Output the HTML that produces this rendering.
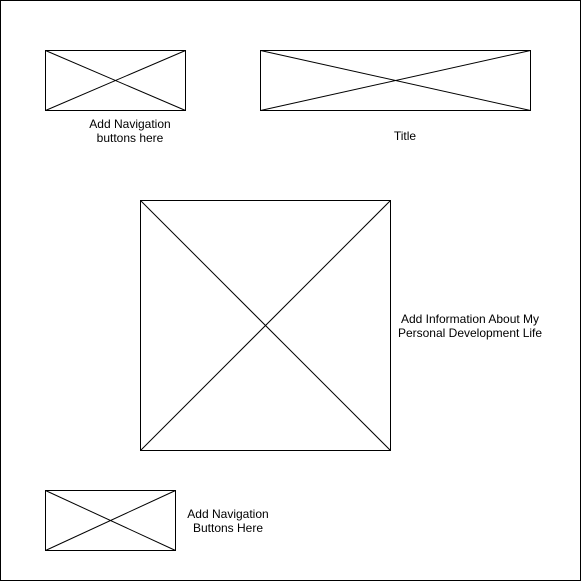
<!DOCTYPE html>
<html>
<head>
<meta charset="utf-8">
<style>
  html, body { margin: 0; padding: 0; background: #fff; }
  svg { display: block; }
  text { font-family: "Liberation Sans", Arial, sans-serif; font-size: 12px; fill: #000; }
</style>
</head>
<body>
<svg width="581" height="581" viewBox="0 0 581 581">
  <rect x="0.5" y="0.5" width="580" height="580" fill="#fff" stroke="#000" stroke-width="1"/>

  <g stroke="#000" stroke-width="1" fill="none">
    <rect x="45.5" y="50.5" width="140" height="60"/>
    <line x1="45.5" y1="50.5" x2="185.5" y2="110.5"/>
    <line x1="185.5" y1="50.5" x2="45.5" y2="110.5"/>
  </g>
  <text x="130" y="128" text-anchor="middle">Add Navigation</text>
  <text x="130" y="142" text-anchor="middle">buttons here</text>

  <g stroke="#000" stroke-width="1" fill="none">
    <rect x="260.5" y="50.5" width="270" height="60"/>
    <line x1="260.5" y1="50.5" x2="530.5" y2="110.5"/>
    <line x1="530.5" y1="50.5" x2="260.5" y2="110.5"/>
  </g>
  <text x="405" y="140" text-anchor="middle">Title</text>

  <g stroke="#000" stroke-width="1" fill="none">
    <rect x="140.5" y="200.5" width="250" height="250"/>
    <line x1="140.5" y1="200.5" x2="390.5" y2="450.5"/>
    <line x1="390.5" y1="200.5" x2="140.5" y2="450.5"/>
  </g>
  <text x="470" y="323" text-anchor="middle">Add Information About My</text>
  <text x="470" y="337" text-anchor="middle">Personal Development Life</text>

  <g stroke="#000" stroke-width="1" fill="none">
    <rect x="45.5" y="490.5" width="130" height="60"/>
    <line x1="45.5" y1="490.5" x2="175.5" y2="550.5"/>
    <line x1="175.5" y1="490.5" x2="45.5" y2="550.5"/>
  </g>
  <text x="228" y="518" text-anchor="middle">Add Navigation</text>
  <text x="228" y="532" text-anchor="middle">Buttons Here</text>
</svg>
</body>
</html>
